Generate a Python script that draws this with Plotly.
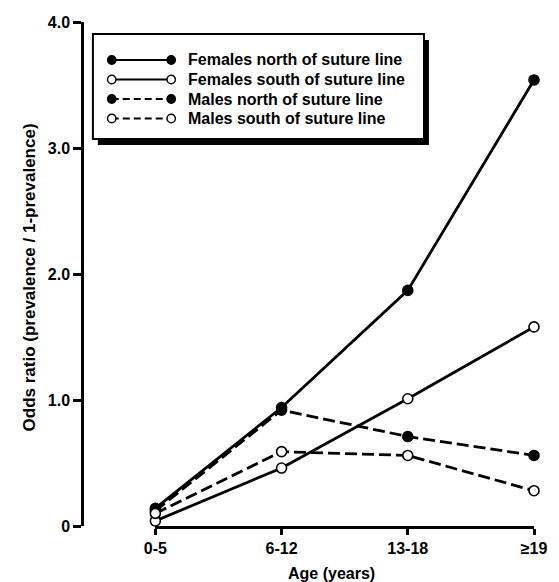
import plotly.graph_objects as go

categories = ["0-5", "6-12", "13-18", "≥19"]
females_north = [0.14, 0.94, 1.87, 3.54]
females_south = [0.04, 0.46, 1.01, 1.58]
males_north = [0.12, 0.92, 0.71, 0.56]
males_south = [0.10, 0.59, 0.56, 0.28]
series_names = ["Females north of suture line", "Females south of suture line",
                "Males north of suture line", "Males south of suture line"]
y_tick_vals = [0, 1, 2, 3, 4]
y_tick_text = ["0", "1.0", "2.0", "3.0", "4.0"]

W, H = 559, 582
L, R, T, B = 82, 21, 22, 56
PW, PH = W - L - R, H - T - B


def px(x):
    return (x - L) / PW


def py(y):
    return (H - B - y) / PH


FONT = "Liberation Sans, Arial, sans-serif"
styles = [("solid", "black"), ("solid", "white"), ("12px,5px", "black"), ("12px,5px", "white")]
data = [females_north, females_south, males_north, males_south]

fig = go.Figure()
for name, vals, (dash, fill) in zip(series_names, data, styles):
    fig.add_trace(go.Scatter(
        x=categories, y=vals, name=name, mode="lines+markers",
        line=dict(color="black", width=2.8, dash=dash),
        marker=dict(symbol="circle", size=10, color=fill, line=dict(color="black", width=1.6)),
        cliponaxis=False, showlegend=False,
    ))

shapes = []
annotations = []
# legend box with shadow
bx0, by0, bx1, by1 = 93, 34, 427, 139
shapes.append(dict(type="rect", xref="paper", yref="paper", x0=px(bx0 + 5), x1=px(bx1 + 5),
                   y0=py(by0 + 6), y1=py(by1 + 6), fillcolor="black", line=dict(width=0), layer="below"))
shapes.append(dict(type="rect", xref="paper", yref="paper", x0=px(bx0), x1=px(bx1),
                   y0=py(by0), y1=py(by1), fillcolor="white", line=dict(color="black", width=2), layer="below"))
rows = [60, 79.5, 99, 118.5]
for name, ry, (dash, fill) in zip(series_names, rows, styles):
    ldash = "solid" if dash == "solid" else "7px,4px"
    shapes.append(dict(type="line", xref="paper", yref="paper", x0=px(112), x1=px(172),
                       y0=py(ry), y1=py(ry), line=dict(color="black", width=2.2, dash=ldash)))
    for cx in (112, 172):
        r = 4.2
        shapes.append(dict(type="circle", xref="paper", yref="paper", x0=px(cx - r), x1=px(cx + r),
                           y0=py(ry + r), y1=py(ry - r), fillcolor=fill, line=dict(color="black", width=1.4)))
    annotations.append(dict(text=name, xref="paper", yref="paper", x=px(187), y=py(ry),
                            xanchor="left", yanchor="middle", showarrow=False,
                            font=dict(family=FONT, size=16, color="black", weight="bold")))

annotations.append(dict(text="Age (years)", xref="paper", yref="paper", x=px(334), y=py(573),
                        xanchor="center", yanchor="middle", showarrow=False,
                        font=dict(family=FONT, size=16, color="black", weight="bold")))
annotations.append(dict(text="Odds ratio (prevalence / 1-prevalence)", xref="paper", yref="paper",
                        x=px(29), y=py(277), xanchor="center", yanchor="middle", showarrow=False,
                        textangle=-90, font=dict(family=FONT, size=17, color="black", weight="bold")))

fig.update_layout(
    width=W, height=H, margin=dict(l=L, r=R, t=T, b=B),
    paper_bgcolor="white", plot_bgcolor="white",
    shapes=shapes, annotations=annotations,
    xaxis=dict(domain=[px(156), 1], range=[0, 3], type="category", categoryorder="array",
               categoryarray=categories, showline=True, linecolor="black", linewidth=2.5,
               ticks="outside", ticklen=6, tickwidth=2.5, tickcolor="black", showgrid=False,
               zeroline=False, tickfont=dict(family=FONT, size=16, color="black", weight="bold")),
    yaxis=dict(anchor="free", position=0, range=[0, 4], tickvals=y_tick_vals, ticktext=y_tick_text,
               showline=True, linecolor="black", linewidth=2.5, ticks="outside", ticklen=8,
               tickwidth=2.5, tickcolor="black", showgrid=False, zeroline=False,
               tickfont=dict(family=FONT, size=16, color="black", weight="bold")),
)

fig.write_html("out.html", config={"displayModeBar": False},
               post_script="document.body.style.margin='0';document.body.style.padding='0';")
